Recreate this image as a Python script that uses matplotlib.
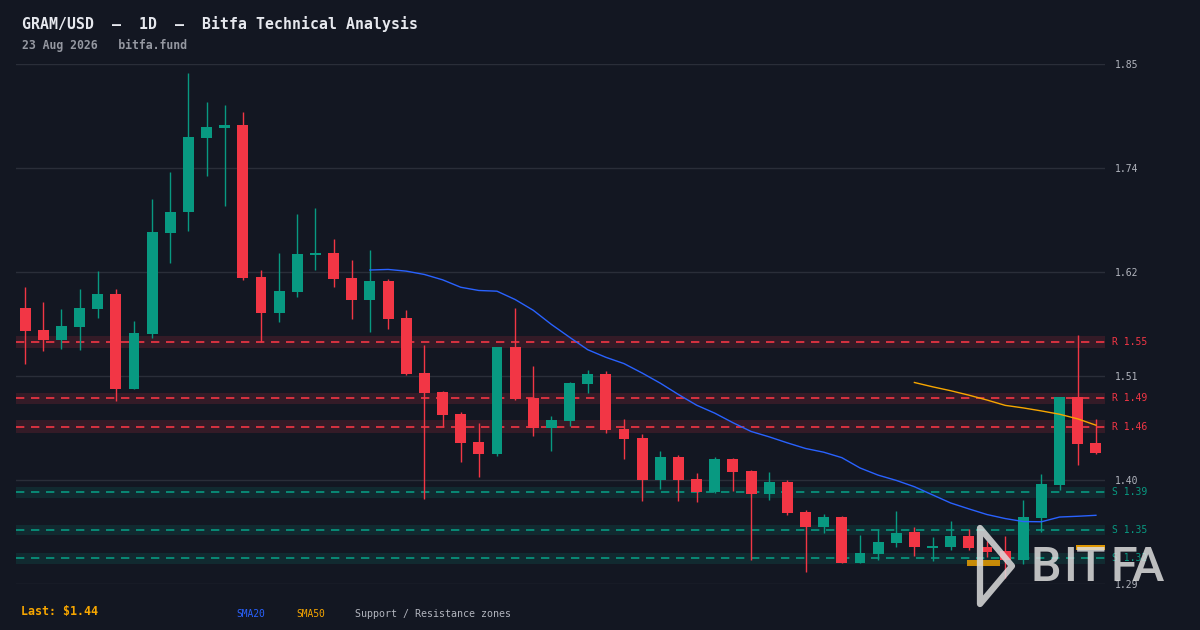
import numpy as np
import pandas as pd
import matplotlib
matplotlib.use("Agg")
import matplotlib.pyplot as plt
from matplotlib.patches import Polygon, Rectangle

# OHLC, one candle per day
opens = [1.5862, 1.5628, 1.5524, 1.5663, 1.5854, 1.6011, 1.5003, 1.5588, 1.6663, 1.6886,
         1.7673, 1.7780, 1.7809, 1.6191, 1.5812, 1.6035, 1.6429, 1.6447, 1.6181, 1.5950,
         1.6149, 1.5755, 1.5170, 1.4968, 1.4734, 1.4436, 1.4312, 1.5447, 1.4901, 1.4588,
         1.4663, 1.5056, 1.5160, 1.4574, 1.4479, 1.4035, 1.4277, 1.4043, 1.3901, 1.4255,
         1.4128, 1.3886, 1.4011, 1.3691, 1.3535, 1.3638, 1.3149, 1.3248, 1.3365, 1.3479,
         1.3312, 1.3322, 1.3436, 1.3319, 1.3277, 1.3184, 1.3631, 1.3982, 1.4915, 1.4426]
highs = [1.6085, 1.5926, 1.5851, 1.6064, 1.6255, 1.6064, 1.5723, 1.7021, 1.7309, 1.8362,
         1.8053, 1.8021, 1.7947, 1.6266, 1.6447, 1.6862, 1.6926, 1.6596, 1.6372, 1.6479,
         1.6170, 1.5840, 1.5471, 1.4979, 1.4755, 1.4638, 1.5447, 1.5862, 1.5245, 1.4713,
         1.5078, 1.5202, 1.5191, 1.4681, 1.4518, 1.4340, 1.4298, 1.4106, 1.4277, 1.4266,
         1.4138, 1.4117, 1.4032, 1.3713, 1.3670, 1.3649, 1.3447, 1.3511, 1.3702, 1.3532,
         1.3426, 1.3596, 1.3511, 1.3383, 1.3436, 1.3819, 1.4096, 1.4915, 1.5574, 1.4681]
lows = [1.5269, 1.5407, 1.5429, 1.5418, 1.5759, 1.4876, 1.5003, 1.5546, 1.6344, 1.6684,
        1.7269, 1.6950, 1.6163, 1.5497, 1.5716, 1.5982, 1.6269, 1.6088, 1.5748, 1.5610,
        1.5641, 1.5152, 1.3833, 1.4593, 1.4227, 1.4067, 1.4290, 1.4883, 1.4503, 1.4344,
        1.4610, 1.4961, 1.4535, 1.4259, 1.3812, 1.3939, 1.3812, 1.3801, 1.3890, 1.3918,
        1.3184, 1.3822, 1.3663, 1.3056, 1.3471, 1.3149, 1.3149, 1.3184, 1.3322, 1.3227,
        1.3173, 1.3290, 1.3290, 1.3216, 1.2986, 1.3141, 1.3482, 1.3929, 1.4195, 1.4312]
closes = [1.5620, 1.5524, 1.5670, 1.5862, 1.6011, 1.5003, 1.5596, 1.6670, 1.6883, 1.7681,
          1.7787, 1.7809, 1.6184, 1.5812, 1.6043, 1.6436, 1.6447, 1.6173, 1.5950, 1.6149,
          1.5748, 1.5163, 1.4961, 1.4727, 1.4429, 1.4312, 1.5447, 1.4897, 1.4590, 1.4670,
          1.5064, 1.5160, 1.4567, 1.4471, 1.4035, 1.4277, 1.4035, 1.3907, 1.4255, 1.4120,
          1.3886, 1.4011, 1.3684, 1.3535, 1.3638, 1.3149, 1.3255, 1.3372, 1.3468, 1.3322,
          1.3330, 1.3436, 1.3312, 1.3269, 1.3184, 1.3638, 1.3989, 1.4915, 1.4418, 1.4322]

last_price = 1.44

resistance = [1.55, 1.49, 1.46]
resistance_half = [0.0069, 0.0056, 0.0069]
support = [1.39, 1.35, 1.32]
support_half = [0.0055, 0.0058, 0.0056]

y_ticks = [1.2926, 1.4032, 1.5138, 1.6245, 1.7351, 1.8457]

BG = "#131722"
GREEN = "#089981"
RED = "#F23645"
GRID = "#2a2e39"
MONO = "DejaVu Sans Mono"

df = pd.DataFrame({"open": opens, "high": highs, "low": lows, "close": closes})
df["sma20"] = df["close"].rolling(20).mean()
df["sma50"] = df["close"].rolling(50).mean()

fig = plt.figure(figsize=(12, 6.3), dpi=100, facecolor=BG)
ax = fig.add_axes([16 / 1200, 1 - 584 / 630, 1089 / 1200, 520 / 630])
ax.set_facecolor(BG)

x = np.arange(len(df))

# zones + level lines
for lvl, h in zip(resistance, resistance_half):
    ax.axhspan(lvl - h, lvl + h, color=RED, alpha=0.15, lw=0, zorder=1)
    ax.axhline(lvl, color=RED, lw=1.2, ls=(0, (5, 4)), zorder=2)
    ax.text(1.006, lvl, f"R {lvl:.2f}", color=RED, fontsize=7, family=MONO,
            va="center", ha="left", transform=ax.get_yaxis_transform())
for lvl, h in zip(support, support_half):
    ax.axhspan(lvl - h, lvl + h, color=GREEN, alpha=0.15, lw=0, zorder=1)
    ax.axhline(lvl, color=GREEN, lw=1.2, ls=(0, (5, 4)), zorder=2)
    ax.text(1.006, lvl, f"S {lvl:.2f}", color=GREEN, fontsize=7, family=MONO,
            va="center", ha="left", transform=ax.get_yaxis_transform())

# candles
up = df["close"] >= df["open"]
colors = np.where(up, GREEN, RED)
ax.vlines(x, df["low"], df["high"], colors=colors, lw=1, zorder=3)
body_lo = np.minimum(df["open"], df["close"])
body_h = np.maximum((df["close"] - df["open"]).abs(), 0.002)
ax.bar(x, body_h, bottom=body_lo, width=0.6, color=colors, lw=0, zorder=4)

# moving averages
ax.plot(x, df["sma20"], color="#2962FF", lw=1, zorder=5)
ax.plot(x, df["sma50"], color="#F7A600", lw=1, zorder=5)

ax.set_xlim(-0.5, len(df) - 0.5)
ax.set_ylim(y_ticks[0], y_ticks[-1])
ax.set_xticks([])
ax.set_yticks(y_ticks)
ax.set_yticklabels([f"{t:.2f}" for t in y_ticks])
ax.yaxis.tick_right()
ax.tick_params(axis="y", length=0, pad=7, labelcolor="#b2b5be", labelsize=7)
for lab in ax.get_yticklabels():
    lab.set_family(MONO)
ax.grid(axis="y", color=GRID, lw=1, zorder=0)
for s in ax.spines.values():
    s.set_visible(False)

# header / footer
fig.text(22 / 1200, 1 - 24 / 630, "GRAM/USD  \u2014  1D  \u2014  Bitfa Technical Analysis",
         color="#e6e8ee", fontsize=10.7, weight="bold", family=MONO, va="center")
fig.text(22 / 1200, 1 - 45 / 630, "23 Aug 2026   bitfa.fund",
         color="#9598a1", fontsize=8.3, weight="bold", family=MONO, va="center")
fig.text(21 / 1200, 1 - 612 / 630, f"Last: ${last_price:.2f}",
         color="#F7A600", fontsize=8.4, weight="bold", family=MONO, va="center")
fig.text(236 / 1200, 1 - 614 / 630, "SMA20", color="#2962FF", fontsize=6.9,
         family=MONO, va="center")
fig.text(296 / 1200, 1 - 614 / 630, "SMA50", color="#F7A600", fontsize=6.9,
         family=MONO, va="center")
fig.text(355 / 1200, 1 - 614 / 630, "Support / Resistance zones", color="#b2b5be",
         fontsize=7.2, family=MONO, va="center")

# watermark logo (pixel coords)
lg = fig.add_axes([0, 0, 1, 1], facecolor="none")
lg.set_xlim(0, 1200)
lg.set_ylim(630, 0)
lg.axis("off")
LOGO = "#dcdcdc"
lg.add_patch(Rectangle((967, 560), 33, 6, color="#F7A600", alpha=0.8, lw=0))
lg.add_patch(Polygon([(980, 528), (1012, 566), (980, 604)], closed=True, fill=False,
                     ec=LOGO, lw=4.5, alpha=0.85, joinstyle="round"))
for ch, cx in zip("BITFA", [1045.5, 1070, 1090.5, 1124, 1148]):
    lg.text(cx, 581, ch, color=LOGO, alpha=0.85, fontsize=35, family="Roboto",
            weight="medium", va="baseline", ha="center")
lg.add_patch(Rectangle((1076, 545), 29, 5, color="#F7A600", alpha=0.9, lw=0))

fig.savefig("out.png", dpi=100, facecolor=BG)
